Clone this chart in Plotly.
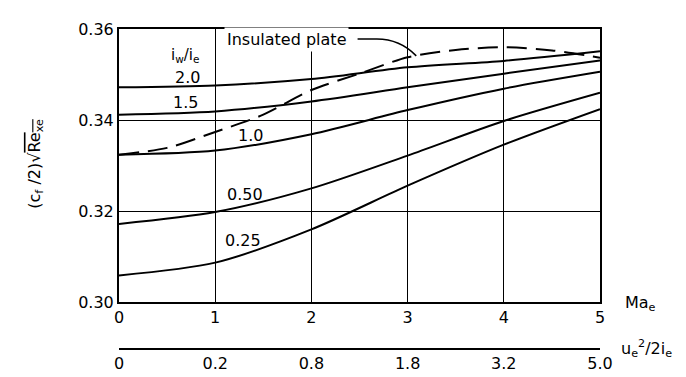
import plotly.graph_objects as go

# Data
mach = [0, 1, 2, 3, 4, 5]
ratio_labels = ["2.0", "1.5", "1.0", "0.50", "0.25"]
cf_20 = [0.3472, 0.3476, 0.3490, 0.3516, 0.3530, 0.3551]
cf_15 = [0.3412, 0.3419, 0.3441, 0.3472, 0.3502, 0.3531]
cf_10 = [0.3324, 0.3333, 0.3369, 0.3422, 0.3469, 0.3506]
cf_050 = [0.3172, 0.3198, 0.3250, 0.3322, 0.3398, 0.3460]
cf_025 = [0.3059, 0.3087, 0.3160, 0.3256, 0.3346, 0.3424]

mach_ins = [0, 0.5, 1, 1.5, 2, 2.5, 3, 3.5, 4, 4.5, 5]
cf_ins = [0.3324, 0.3339, 0.3374, 0.3412, 0.3466, 0.3502, 0.3538, 0.3554, 0.3560, 0.3553, 0.3537]

energy_ticks = ["0", "0.2", "0.8", "1.8", "3.2", "5.0"]
y_ticks = [0.30, 0.32, 0.34, 0.36]

FONT = "DejaVu Sans"
fig = go.Figure()

for vals in [cf_20, cf_15, cf_10, cf_050, cf_025]:
    fig.add_trace(go.Scatter(x=mach, y=vals, mode="lines",
                             line=dict(color="black", width=2, shape="spline", smoothing=0.8),
                             showlegend=False, hoverinfo="skip"))

fig.add_trace(go.Scatter(x=mach_ins, y=cf_ins, mode="lines",
                         line=dict(color="black", width=2, dash="20px,9px", shape="spline", smoothing=0.8),
                         showlegend=False, hoverinfo="skip"))

# trace that registers the secondary x axis
fig.add_trace(go.Scatter(x=[mach[0], mach[-1]], y=[None, None], xaxis="x2", mode="lines",
                         showlegend=False, hoverinfo="skip"))

axis_common = dict(showline=True, linecolor="black", linewidth=2, showgrid=True,
                   gridcolor="black", gridwidth=1.2, zeroline=False,
                   tickfont=dict(family=FONT, size=16, color="black"))

fig.update_layout(
    width=686, height=377,
    margin=dict(l=111, r=94, t=14, b=25),
    plot_bgcolor="white", paper_bgcolor="white",
    xaxis=dict(range=[0, 5], tickvals=mach, ticktext=[str(m) for m in mach],
               mirror=True, ticks="", anchor="y", **axis_common),
    yaxis=dict(range=[0.30, 0.36], tickvals=y_ticks, ticktext=[f"{v:.2f}" for v in y_ticks],
               mirror=True, ticks="", domain=[0.146, 1], **axis_common),
    xaxis2=dict(range=[0, 5], overlaying="x", anchor="free", position=0, side="bottom",
                tickvals=mach, ticktext=energy_ticks, showline=True, linecolor="black",
                linewidth=2, showgrid=False, zeroline=False, ticks="",
                tickfont=dict(family=FONT, size=16, color="black")),
    font=dict(family=FONT, color="black"),
)

def label(x, y, text, size=16, **kw):
    fig.add_annotation(x=x, y=y, text=text, showarrow=False, xref="x", yref="y",
                       font=dict(family=FONT, size=size, color="black"), **kw)

label(0.686, 0.3542, "i<sub>w</sub>/i<sub>e</sub>", size=15)
label(0.717, 0.3493, ratio_labels[0])
label(0.696, 0.3439, ratio_labels[1])
label(1.362, 0.3366, ratio_labels[2])
label(1.31, 0.3236, ratio_labels[3])
label(1.289, 0.3136, ratio_labels[4])
label(1.74, 0.3576, "Insulated plate", size=16, bgcolor="white", borderpad=2)

# leader curve from label to dashed line
fig.add_shape(type="path", xref="x", yref="y",
              path="M 2.48,0.3578 L 2.68,0.3578 C 2.85,0.3578 2.98,0.3565 3.09,0.3541",
              line=dict(color="black", width=1.5))

# axis titles
fig.add_annotation(xref="paper", yref="paper", x=-0.2, y=0.58, textangle=-90,
                   text="(c<sub>f</sub> /2)\u221a<span style='text-decoration:overline'>Re<sub>xe</sub></span>",
                   showarrow=False, font=dict(family=FONT, size=16, color="black"))
fig.add_annotation(xref="paper", yref="paper", x=1.12, y=0.104, text="Ma<sub>e</sub>",
                   showarrow=False, font=dict(family=FONT, size=16, color="black"))
fig.add_annotation(xref="paper", yref="paper", x=1.04, y=-0.04, xanchor="left",
                   text="u<sub>e</sub><sup>2</sup>/2i<sub>e</sub>",
                   showarrow=False, font=dict(family=FONT, size=16, color="black"))

fig.write_html("out.html")
